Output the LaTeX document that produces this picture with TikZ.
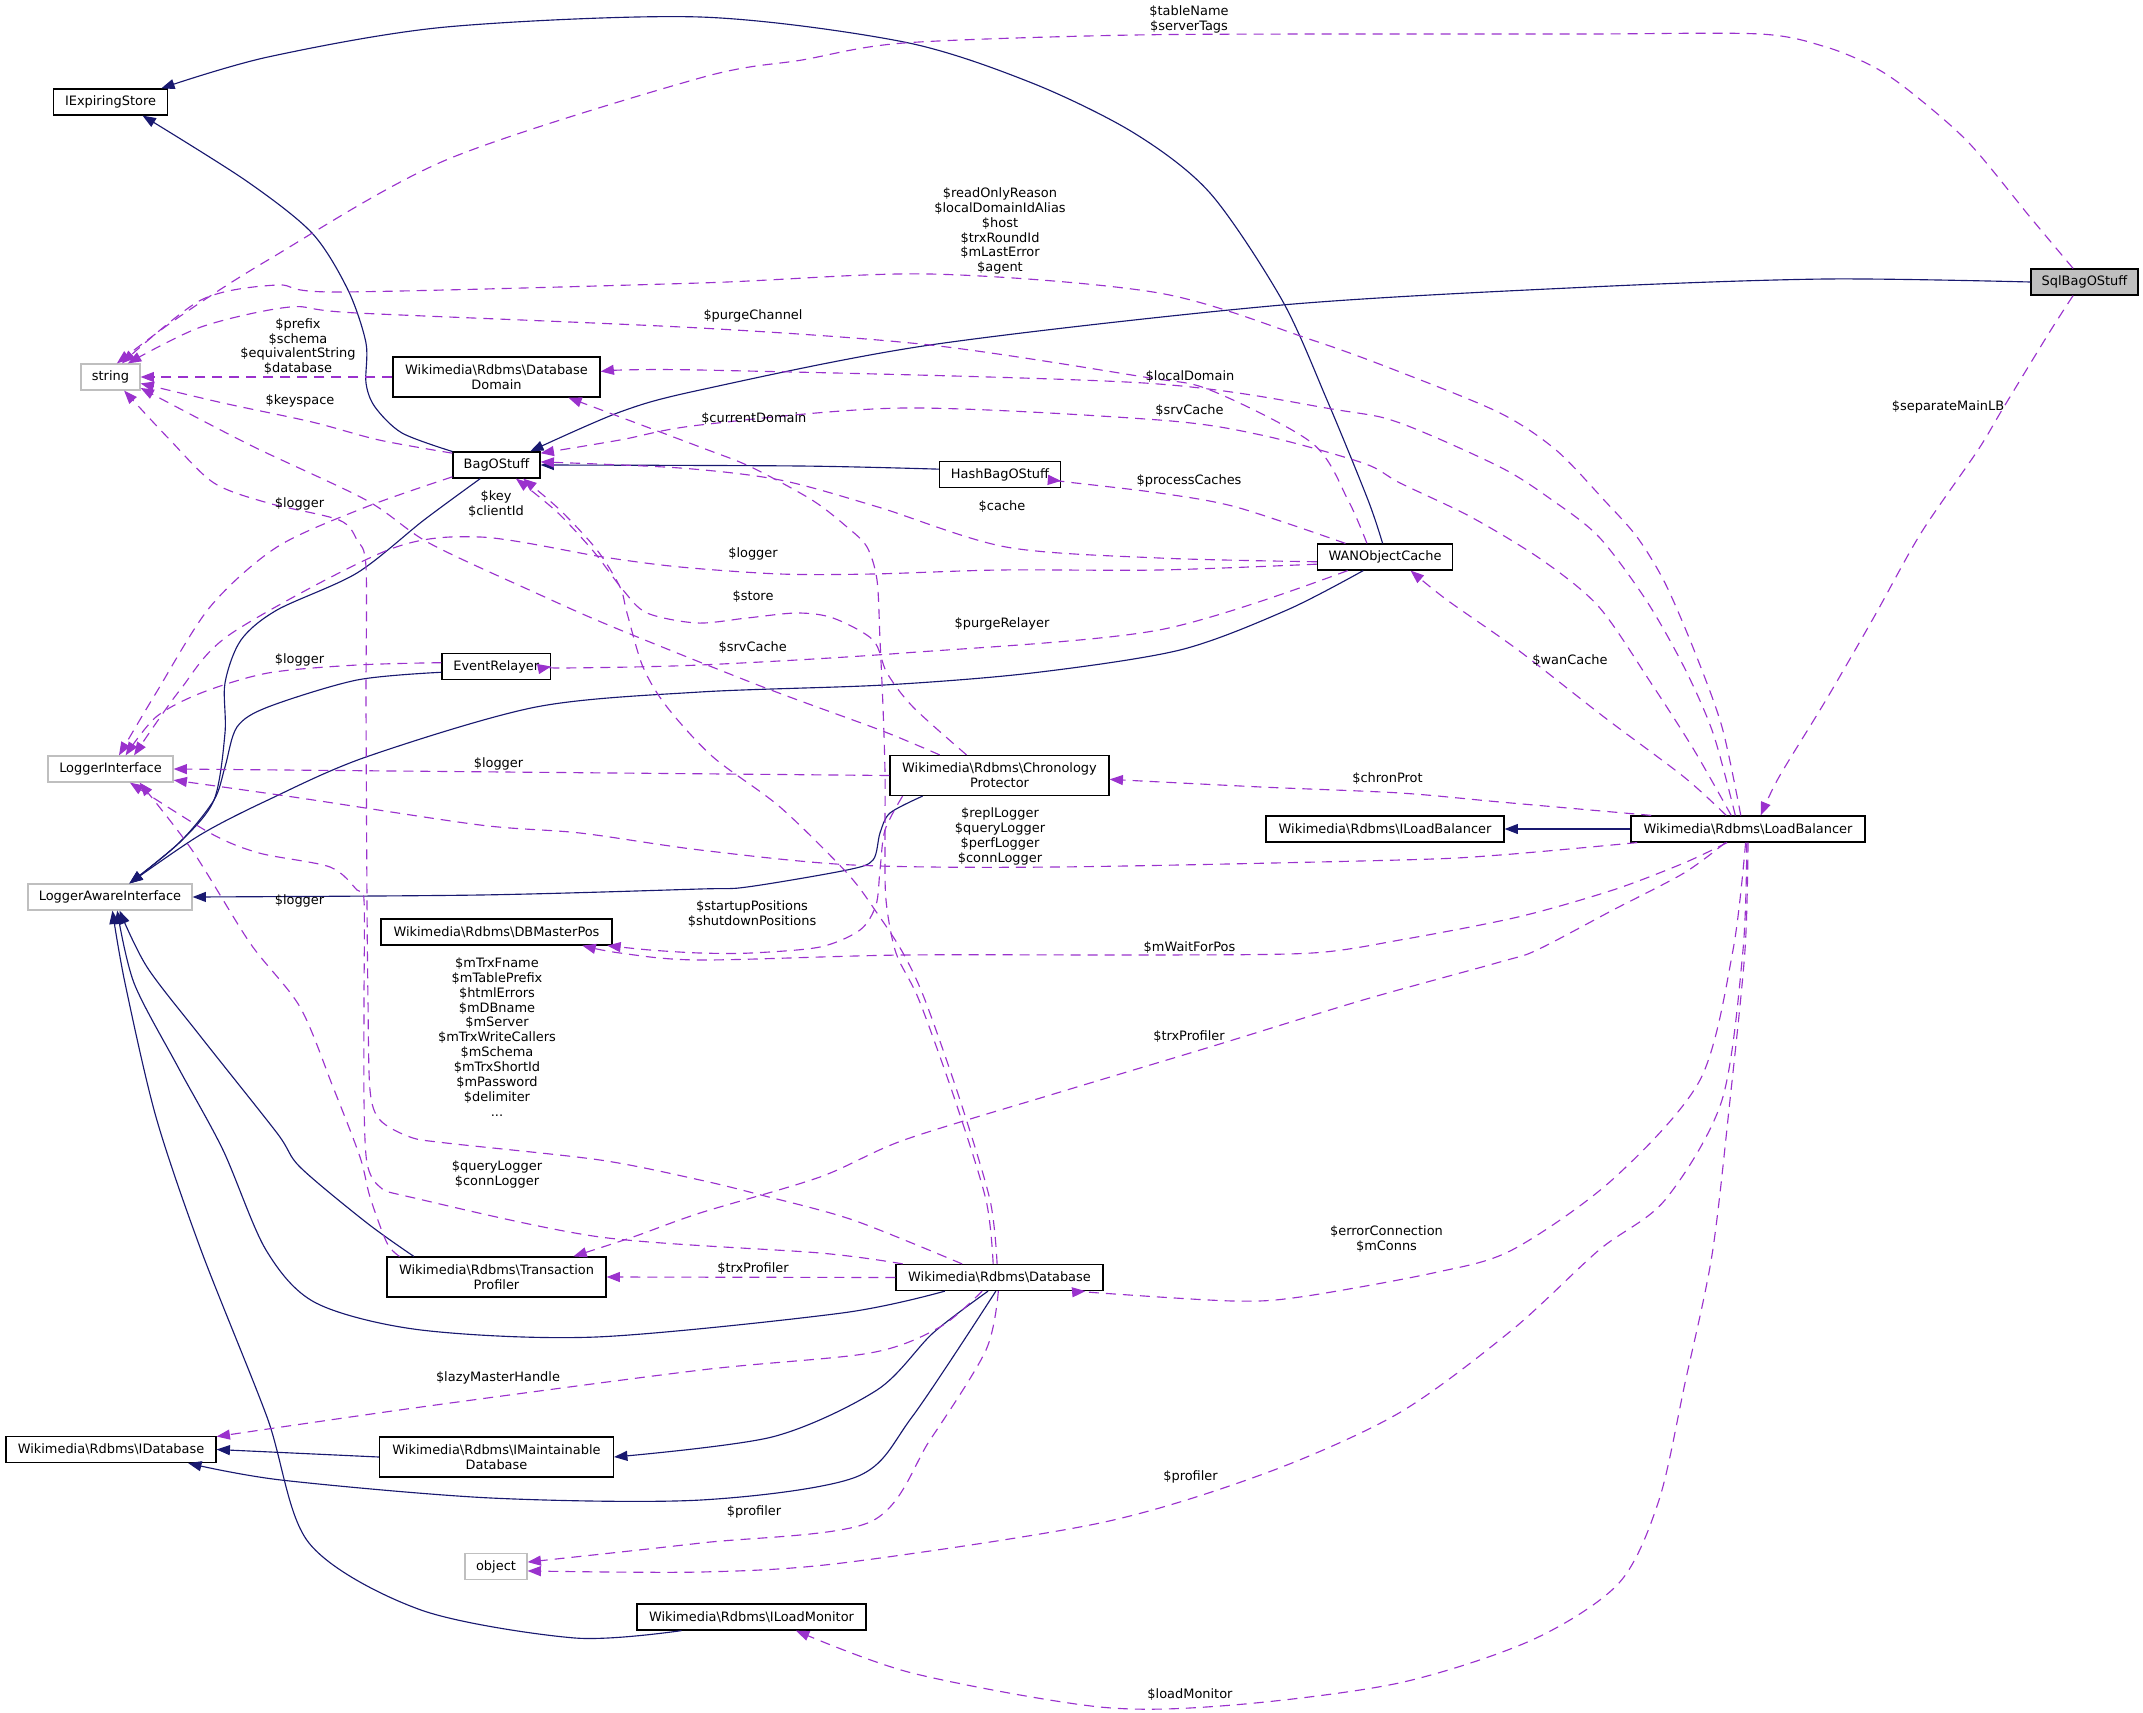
\documentclass[tikz,border=0pt]{standalone}
\usepackage{fontspec}
\setmainfont{DejaVu Sans}
\usetikzlibrary{arrows.meta}
\definecolor{navy}{HTML}{191970}
\definecolor{orchid}{HTML}{9A32CD}
\definecolor{lgray}{HTML}{BFBFBF}
\newcommand\bs{\textbackslash}
\newcommand\fsz{\fontsize{9.7pt}{11.2pt}\selectfont}
\begin{document}
\begin{tikzpicture}[x=0.75pt,y=-0.75pt,
  cls/.style={draw=black,line width=0.9pt,fill=white,inner sep=0pt,align=center,font=\fsz,minimum height=19.5pt},
  ext/.style={cls,draw=lgray},
  inh/.style={draw=navy,line width=0.85pt,-{Triangle[length=10pt,width=7.5pt]}},
  dep/.style={draw=orchid,line width=0.85pt,dash pattern=on 7.5pt off 5.25pt,-{Triangle[length=10pt,width=7.5pt]}},
  lbl/.style={font=\fsz,align=center,inner sep=0pt}]
\useasboundingbox (0,0) rectangle (2143,1713);

% nodes
\node[cls,fill=lgray,minimum width=80.25pt] (sql) at (2084.5,282) {SqlBagOStuff};
\node[cls,minimum width=65.25pt] (bag) at (496.5,465) {BagOStuff};
\node[cls,minimum width=85.5pt] (iexp) at (110.5,102) {IExpiringStore};
\node[ext,minimum width=44.25pt] (str) at (110.5,377) {string};
\node[cls,minimum width=155.25pt,minimum height=30pt] (dom) at (496.5,377) {Wikimedia\bs Rdbms\bs Database\\Domain};
\node[cls,minimum width=90.75pt] (hash) at (1000,474.5) {HashBagOStuff};
\node[cls,minimum width=101.25pt] (wan) at (1385,557) {WANObjectCache};
\node[cls,minimum width=81.4pt] (evr) at (496.3,666.5) {EventRelayer};
\node[ext,minimum width=93.75pt] (logi) at (110.5,769) {LoggerInterface};
\node[cls,minimum width=164.25pt,minimum height=30pt] (cp) at (999.5,775.5) {Wikimedia\bs Rdbms\bs Chronology\\Protector};
\node[cls,minimum width=178.5pt] (ilb) at (1385,829) {Wikimedia\bs Rdbms\bs ILoadBalancer};
\node[cls,minimum width=175.5pt] (lb) at (1748,829) {Wikimedia\bs Rdbms\bs LoadBalancer};
\node[ext,minimum width=123pt] (lai) at (110,897) {LoggerAwareInterface};
\node[cls,minimum width=173.25pt] (dbmp) at (496.5,932) {Wikimedia\bs Rdbms\bs DBMasterPos};
\node[cls,minimum width=164.25pt,minimum height=30pt] (tp) at (496.5,1277) {Wikimedia\bs Rdbms\bs Transaction\\Profiler};
\node[cls,minimum width=155.25pt] (db) at (999.5,1277.5) {Wikimedia\bs Rdbms\bs Database};
\node[cls,minimum width=157.5pt] (idb) at (111,1449.5) {Wikimedia\bs Rdbms\bs IDatabase};
\node[cls,minimum width=175.5pt,minimum height=30pt] (imd) at (496.5,1457) {Wikimedia\bs Rdbms\bs IMaintainable\\Database};
\node[ext,minimum width=46.5pt] (obj) at (496,1566.5) {object};
\node[cls,minimum width=171.75pt] (ilm) at (751.5,1617) {Wikimedia\bs Rdbms\bs ILoadMonitor};

% solid (inheritance) edges
\draw[inh] plot[smooth] coordinates {(sql.west) (1826,279) (1590,287) (1282,305) (930,345) (700,390) (620,412) (bag.22)};
\draw[inh] plot[smooth] coordinates {(bag.163) (402,433) (375,407) (366,383) (366,343) (348,290) (312,233) (245,180) (iexp.-23)};
\draw[inh] plot[smooth] coordinates {(wan.100) (1368,500) (1327,400) (1282,300) (1210,193) (1134,133) (1032,83) (904,42) (700,17) (446,27) (268,57) (iexp.15)};
\draw[inh] plot[smooth] coordinates {(bag.-140) (424,520) (357,573) (277,610) (241,640) (225,683) (225,733) (214,800) (180,842) (lai.35)};
\draw[inh] plot[smooth] coordinates {(evr.186) (357,680) (268,707) (237,727) (225,767) (214,800) (180,842) (lai.35)};
\draw[inh] plot[smooth] coordinates {(wan.-148) (1287,610) (1180,650) (1032,673) (884,685) (700,692) (536,707) (366,757) (268,800) (200,835) (lai.35)};
\draw[inh] plot[smooth] coordinates {(cp.-165) (890,813) (880,833) (873,860) (847,870) (747,887) (700,889) (480,895) (lai.east)};
\draw[inh] plot[smooth] coordinates {(tp.166) (367,1223) (300,1167) (277,1133) (201,1037) (147,967) (lai.-55)};
\draw[inh] plot[smooth] coordinates {(db.-166) (842,1313) (596,1337) (421,1330) (316,1303) (266,1250) (223,1150) (178,1067) (134,983) (lai.-62)};
\draw[inh] plot[smooth] coordinates {(ilm.-169) (575,1638) (421,1610) (309,1543) (267,1417) (201,1250) (156,1117) (125,983) (lai.-80)};
\draw[inh] plot[smooth] coordinates {(db.-130) (933,1333) (877,1390) (772,1437) (imd.east)};
\draw[inh] plot[smooth] coordinates {(db.-105) (912,1417) (856,1477) (701,1500) (491,1498) (281,1480) (idb.-10)};
\draw[inh] (imd.west) -- (idb.east);
\draw[inh] plot[smooth] coordinates {(hash.175) (800,466) (bag.east)};
\draw[inh] (lb.west) -- (ilb.east);

% dashed (usage) edges
\draw[dep] plot[smooth] coordinates {(sql.130) (2030,217) (1969,143) (1912,93) (1874,67) (1826,47) (1760,34) (1590,34) (1400,34) (1134,35) (904,43) (802,60) (700,78) (446,160) (268,260) (179,317) (str.65)};
\draw[dep] plot[smooth] coordinates {(sql.-130) (2049,333) (2002,410) (1978,450) (1921,533) (1874,617) (1826,700) (1779,777) (lb.47)};
\draw[dep] plot[smooth] coordinates {(lb.118) (1722,727) (1694,650) (1665,583) (1637,537) (1604,500) (1556,450) (1500,413) (1400,372) (1312,340) (1159,293) (930,274) (700,283) (339,292) (277,285) (201,300) (str.50)};
\draw[dep] plot[smooth] coordinates {(wan.143) (1348,500) (1312,443) (1210,390) (1144,377) (930,345) (700,328) (357,313) (290,307) (201,327) (str.38)};
\draw[dep] (dom.west) -- (str.east);
\draw[dep] plot[smooth] coordinates {(bag.165) (379,440) (312,422) (223,403) (str.-12)};
\draw[dep] plot[smooth] coordinates {(bag.-165) (366,507) (277,547) (210,607) (156,693) (logi.58)};
\draw[dep] plot[smooth] coordinates {(cp.161) (880,730) (763,687) (613,627) (536,593) (429,543) (366,500) (250,445) (str.-20)};
\draw[dep] plot[smooth] coordinates {(db.160) (853,1220) (761,1195) (700,1180) (600,1160) (446,1143) (410,1137) (380,1120) (370,1090) (368,1000) (367,900) (366,700) (366,567) (357,540) (339,520) (268,503) (214,483) (170,440) (str.-45)};
\draw[dep] plot[smooth] coordinates {(db.172) (820,1253) (600,1237) (410,1197) (380,1187) (367,1163) (364,1100) (364,1000) (364,900) (357,890) (330,867) (259,853) (210,833) (logi.-35)};
\draw[dep] plot[smooth] coordinates {(tp.168) (387,1243) (370,1197) (360,1157) (333,1087) (300,1007) (250,943) (192,850) (logi.-25)};
\draw[dep] plot[smooth] coordinates {(evr.176) (357,665) (268,673) (201,693) (156,717) (logi.42)};
\draw[dep] plot[smooth] coordinates {(wan.186) (1159,570) (1000,570) (873,574) (780,574) (680,567) (603,557) (480,537) (388,550) (232,633) (180,690) (logi.30)};
\draw[dep] (cp.west) -- (logi.east);
\draw[dep] plot[smooth] coordinates {(lb.-173) (1500,855) (1400,860) (1057,867) (853,865) (700,850) (580,833) (480,825) (300,798) (logi.-10)};
\draw[dep] plot[smooth] coordinates {(lb.141) (1694,750) (1651,683) (1599,607) (1542,560) (1471,517) (1400,483) (1363,463) (1261,435) (1159,420) (904,408) (700,425) (620,440) (bag.15)};
\draw[dep] plot[smooth] coordinates {(lb.133) (1713,733) (1684,667) (1646,600) (1599,537) (1552,500) (1500,467) (1400,423) (1338,410) (1144,383) (700,370) (dom.3)};
\draw[dep] plot[smooth] coordinates {(db.115) (986,1200) (955,1100) (919,1000) (896,953) (886,900) (885,840) (885,773) (883,707) (880,640) (877,580) (867,547) (847,527) (812,500) (751,467) (700,447) (dom.-16)};
\draw[dep] plot[smooth] coordinates {(db.100) (990,1200) (960,1100) (925,1000) (903,953) (877,913) (847,873) (780,807) (713,757) (667,707) (643,667) (627,613) (620,587) (597,550) (560,510) (bag.-27)};
\draw[dep] plot[smooth] coordinates {(cp.148) (913,707) (887,673) (873,640) (833,618) (797,613) (747,618) (697,623) (647,613) (623,590) (594,552) (557,512) (bag.-35)};
\draw[dep] plot[smooth] coordinates {(cp.-168) (885,830) (880,870) (876,905) (860,930) (820,947) (751,953) (700,953) (650,950) (dbmp.-7)};
\draw[dep] plot[smooth] coordinates {(lb.-147) (1684,863) (1613,890) (1518,917) (1400,940) (1312,953) (1159,955) (904,955) (700,960) (620,953) (dbmp.-9)};
\draw[dep] plot[smooth] coordinates {(lb.-149) (1684,873) (1613,910) (1537,950) (1500,962) (1363,1000) (1210,1047) (1057,1093) (904,1140) (820,1177) (700,1213) (633,1237) (tp.15)};
\draw[dep] plot[smooth] coordinates {(lb.-100) (1733,950) (1700,1080) (1612,1180) (1512,1250) (1433,1273) (1300,1297) (1233,1301) (1100,1293) (db.-9)};
\draw[dep] plot[smooth] coordinates {(db.-142) (940,1327) (870,1353) (701,1370) (421,1407) (idb.7)};
\draw[dep] plot[smooth] coordinates {(db.-95) (986,1350) (930,1440) (870,1522) (701,1543) (obj.8)};
\draw[dep] plot[smooth] coordinates {(lb.-95) (1743,950) (1722,1100) (1665,1200) (1599,1250) (1512,1330) (1399,1413) (1266,1473) (1100,1523) (842,1563) (701,1572) (obj.-8)};
\draw[dep] plot[smooth] coordinates {(lb.-90) (1745,950) (1730,1100) (1712,1255) (1685,1383) (1659,1500) (1619,1583) (1532,1640) (1399,1683) (1233,1705) (1100,1707) (912,1673) (ilm.-17)};
\draw[dep] (db.west) -- (tp.east);
\draw[dep] plot[smooth] coordinates {(lb.148) (1684,777) (1604,717) (1518,650) (1447,600) (wan.-28)};
\draw[dep] plot[smooth] coordinates {(lb.172) (1500,802) (1400,793) (1261,787) (cp.-2)};
\draw[dep] plot[smooth] coordinates {(wan.161) (1236,507) (1159,493) (1067,482) (hash.-6)};
\draw[dep] plot[smooth] coordinates {(wan.184) (1159,558) (1006,547) (878,507) (780,480) (680,468) (bag.4)};
\draw[dep] plot[smooth] coordinates {(wan.-160) (1159,630) (904,653) (700,665) (563,668) (evr.east)};

% labels
\node[lbl] (l1) at (1189,19) {\$tableName\\\$serverTags};
\node[lbl] (l2) at (1948,407) {\$separateMainLB};
\node[lbl] (l3) at (1000,231) {\$readOnlyReason\\\$localDomainIdAlias\\\$host\\\$trxRoundId\\\$mLastError\\\$agent};
\node[lbl] (l4) at (298,346.5) {\$prefix\\\$schema\\\$equivalentString\\\$database};
\node[lbl] (l5) at (300,400.7) {\$keyspace};
\node[lbl] (l6) at (753,316) {\$purgeChannel};
\node[lbl] (l7) at (1190,376.7) {\$localDomain};
\node[lbl] (l8) at (1189.5,410.7) {\$srvCache};
\node[lbl] (l9) at (753.8,418.7) {\$currentDomain};
\node[lbl] (l10) at (1189,480.7) {\$processCaches};
\node[lbl] (l11) at (1002,506.7) {\$cache};
\node[lbl] (l12) at (299.5,504) {\$logger};
\node[lbl] (l13) at (496,504) {\$key\\\$clientId};
\node[lbl] (l14) at (753,554.3) {\$logger};
\node[lbl] (l15) at (753,596.3) {\$store};
\node[lbl] (l16) at (1002,623.7) {\$purgeRelayer};
\node[lbl] (l17) at (752.7,647.3) {\$srvCache};
\node[lbl] (l18) at (1570,660.7) {\$wanCache};
\node[lbl] (l19) at (299.5,659.7) {\$logger};
\node[lbl] (l20) at (498.5,764) {\$logger};
\node[lbl] (l21) at (1387.5,778.3) {\$chronProt};
\node[lbl] (l22) at (1000,836.8) {\$replLogger\\\$queryLogger\\\$perfLogger\\\$connLogger};
\node[lbl] (l23) at (299.5,900.7) {\$logger};
\node[lbl] (l24) at (752,913.7) {\$startupPositions\\\$shutdownPositions};
\node[lbl] (l25) at (1189.5,947.7) {\$mWaitForPos};
\node[lbl] (l26) at (497,1037) {\$mTrxFname\\\$mTablePrefix\\\$htmlErrors\\\$mDBname\\\$mServer\\\$mTrxWriteCallers\\\$mSchema\\\$mTrxShortId\\\$mPassword\\\$delimiter\\...};
\node[lbl] (l27) at (1189,1036.7) {\$trxProfiler};
\node[lbl] (l28) at (497,1174) {\$queryLogger\\\$connLogger};
\node[lbl] (l29) at (1386.5,1239) {\$errorConnection\\\$mConns};
\node[lbl] (l30) at (753,1268.3) {\$trxProfiler};
\node[lbl] (l31) at (498,1378.3) {\$lazyMasterHandle};
\node[lbl] (l32) at (754,1512.3) {\$profiler};
\node[lbl] (l33) at (1190.5,1476.7) {\$profiler};
\node[lbl] (l34) at (1190,1694.3) {\$loadMonitor};
\end{tikzpicture}
\end{document}
